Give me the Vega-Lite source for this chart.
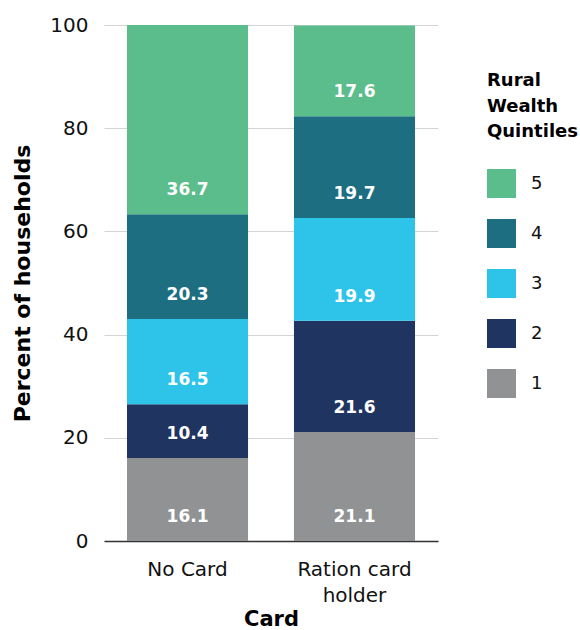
{
  "$schema": "https://vega.github.io/schema/vega-lite/v6.json",
  "width": 334,
  "height": 516,
  "autosize": "none",
  "padding": {"left": 104, "top": 25, "right": 142, "bottom": 89},
  "config": {
    "view": {"stroke": null},
    "font": "DejaVu Sans",
    "axis": {"labelFont": "DejaVu Sans", "titleFont": "DejaVu Sans"},
    "legend": {"labelFont": "DejaVu Sans", "titleFont": "DejaVu Sans"}
  },
  "data": {
    "values": [
      {"card": "No Card", "quintile": 1, "pct": 16.1},
      {"card": "No Card", "quintile": 2, "pct": 10.4},
      {"card": "No Card", "quintile": 3, "pct": 16.5},
      {"card": "No Card", "quintile": 4, "pct": 20.3},
      {"card": "No Card", "quintile": 5, "pct": 36.7},
      {"card": "Ration card holder", "quintile": 1, "pct": 21.1},
      {"card": "Ration card holder", "quintile": 2, "pct": 21.6},
      {"card": "Ration card holder", "quintile": 3, "pct": 19.9},
      {"card": "Ration card holder", "quintile": 4, "pct": 19.7},
      {"card": "Ration card holder", "quintile": 5, "pct": 17.6}
    ]
  },
  "transform": [
    {"stack": "pct", "groupby": ["card"], "sort": [{"field": "quintile", "order": "ascending"}], "as": ["y0", "y1"]}
  ],
  "layer": [
    {
      "mark": {"type": "bar"},
      "encoding": {
        "x": {
          "field": "card", "type": "nominal",
          "scale": {"paddingInner": 0.275, "paddingOuter": 0.1377},
          "axis": {
            "title": "Card", "titleFontSize": 21, "titleFontWeight": "bold", "titleColor": "#000", "titlePadding": 3,
            "labelAngle": 0, "labelFontSize": 20, "labelColor": "#111", "labelPadding": 18,
            "labelExpr": "datum.value == 'Ration card holder' ? ['Ration card', 'holder'] : datum.value",
            "labelLineHeight": 26,
            "ticks": false, "domainColor": "#333333", "domainWidth": 1.5
          }
        },
        "y": {
          "field": "y0", "type": "quantitative",
          "scale": {"domain": [0, 100]},
          "axis": {
            "title": "Percent of households", "titleFontSize": 22, "titleFontWeight": "bold", "titleColor": "#000", "titlePadding": 15,
            "values": [0, 20, 40, 60, 80, 100],
            "labelFontSize": 20, "labelColor": "#111", "labelPadding": 16,
            "ticks": false, "domain": false, "gridColor": "#d4d4d4", "gridWidth": 1
          }
        },
        "y2": {"field": "y1"},
        "color": {
          "field": "quintile", "type": "ordinal",
          "scale": {"domain": [5, 4, 3, 2, 1], "range": ["#5BBD8B", "#1E6E82", "#2EC4EA", "#1F3461", "#919294"]},
          "legend": {
            "title": ["Rural", "Wealth", "Quintiles"],
            "orient": "none", "legendX": 383, "legendY": 47,
            "titleFontSize": 18, "titleFontWeight": "bold", "titleColor": "#000", "titleLineHeight": 25.5, "titlePadding": 28,
            "labelFontSize": 18, "labelColor": "#111", "labelOffset": 15,
            "symbolType": "square", "symbolSize": 841, "symbolStrokeWidth": 0, "symbolOpacity": 1,
            "rowPadding": 21
          }
        }
      }
    },
    {
      "mark": {"type": "text", "color": "white", "fontWeight": "bold", "fontSize": 17, "baseline": "middle", "dy": -24},
      "encoding": {
        "x": {"field": "card", "type": "nominal"},
        "y": {"field": "y0", "type": "quantitative"},
        "text": {"field": "pct", "type": "quantitative", "format": ".1f"}
      }
    }
  ]
}
